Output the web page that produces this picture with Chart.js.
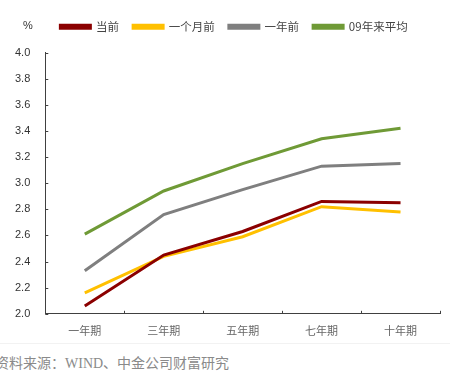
<!DOCTYPE html>
<html><head><meta charset="utf-8">
<script src="https://cdn.jsdelivr.net/npm/chart.js@4"></script>
<style>
body{margin:0;background:#fff;width:450px;height:390px;overflow:hidden;position:relative;font-family:"Liberation Sans",Arial,sans-serif}
#wrap{position:absolute;left:0;top:0;width:450px;height:339px}
#pct{position:absolute;left:23px;top:19px;font-size:11px;color:#333}
#src{position:absolute;left:-5px;top:352px;font-size:14px;color:#8a8a8a;font-family:"Liberation Serif","Noto Sans CJK SC",serif;white-space:nowrap}
#sep{position:absolute;left:0;top:343px;width:450px;height:1px;background:#f2f2f2}
</style></head>
<body>
<div id="wrap"><canvas id="c"></canvas></div>
<div id="pct">%</div>
<div id="sep"></div>
<div id="src">资料来源：WIND、中金公司财富研究</div>
<script>
const categories = ["一年期","三年期","五年期","七年期","十年期"];
const seriesNames = ["当前","一个月前","一年前","09年来平均"];
const current = [2.06, 2.45, 2.63, 2.86, 2.85];
const monthAgo = [2.16, 2.44, 2.59, 2.82, 2.78];
const yearAgo = [2.33, 2.76, 2.95, 3.13, 3.15];
const avgSince09 = [2.61, 2.94, 3.15, 3.34, 3.42];
const colors = ["#8b0000","#ffc000","#7f7f7f","#6f9a36"];

const innerTicks = {
  id:'innerTicks',
  afterDraw(chart){
    const ctx=chart.ctx, x=chart.scales.x, y=chart.scales.y, a=chart.chartArea;
    ctx.save(); ctx.strokeStyle='#404040'; ctx.lineWidth=1;
    ctx.beginPath();
    y.ticks.forEach(t=>{const py=Math.round(y.getPixelForValue(t.value))+0.5; ctx.moveTo(a.left,py); ctx.lineTo(a.left+3,py);});
    for(let i=0;i<=categories.length;i++){const px=Math.round(x.getPixelForValue(i-0.5))+0.5; ctx.moveTo(px,a.bottom); ctx.lineTo(px,a.bottom-3);}
    ctx.stroke(); ctx.restore();
  }
};
const legendGap = {
  id:'legendGap',
  beforeInit(chart){
    const lg = chart.legend;
    const fit = lg.fit;
    lg.fit = function(){ fit.call(this); this.height += 10; };
    const draw = lg.draw;
    lg.draw = function(){ const c=this.ctx; c.save(); c.translate(10,0); draw.call(this); c.restore(); };
  }
};

const data = [current,monthAgo,yearAgo,avgSince09];
new Chart(document.getElementById('c'),{
  type:'line',
  data:{labels:categories,datasets:data.map((d,i)=>({label:seriesNames[i],data:d,borderColor:colors[i],backgroundColor:colors[i],borderWidth:3,pointRadius:0,tension:0}))},
  options:{
    responsive:true,maintainAspectRatio:false,animation:false,
    layout:{padding:{left:8,right:10,top:7,bottom:0}},
    plugins:{
      legend:{position:'top',align:'center',
        labels:{boxWidth:30,boxHeight:3,padding:14,color:'#444',font:{size:11.5,family:"'Noto Sans CJK SC','Liberation Sans'"}}},
      tooltip:{enabled:false}
    },
    scales:{
      x:{offset:true,grid:{display:false},border:{display:true,color:'#404040',width:1},
        ticks:{color:'#666',font:{size:11,family:"'Noto Sans CJK SC'"},padding:2,maxRotation:0}},
      y:{min:2,max:4,grid:{display:false},border:{display:true,color:'#404040',width:1},
        ticks:{stepSize:0.2,color:'#333',font:{size:11,family:"'Liberation Sans',Arial"},padding:7,callback:v=>Number(v).toFixed(1)}}
    }
  },
  plugins:[innerTicks, legendGap]
});
</script>
</body></html>
